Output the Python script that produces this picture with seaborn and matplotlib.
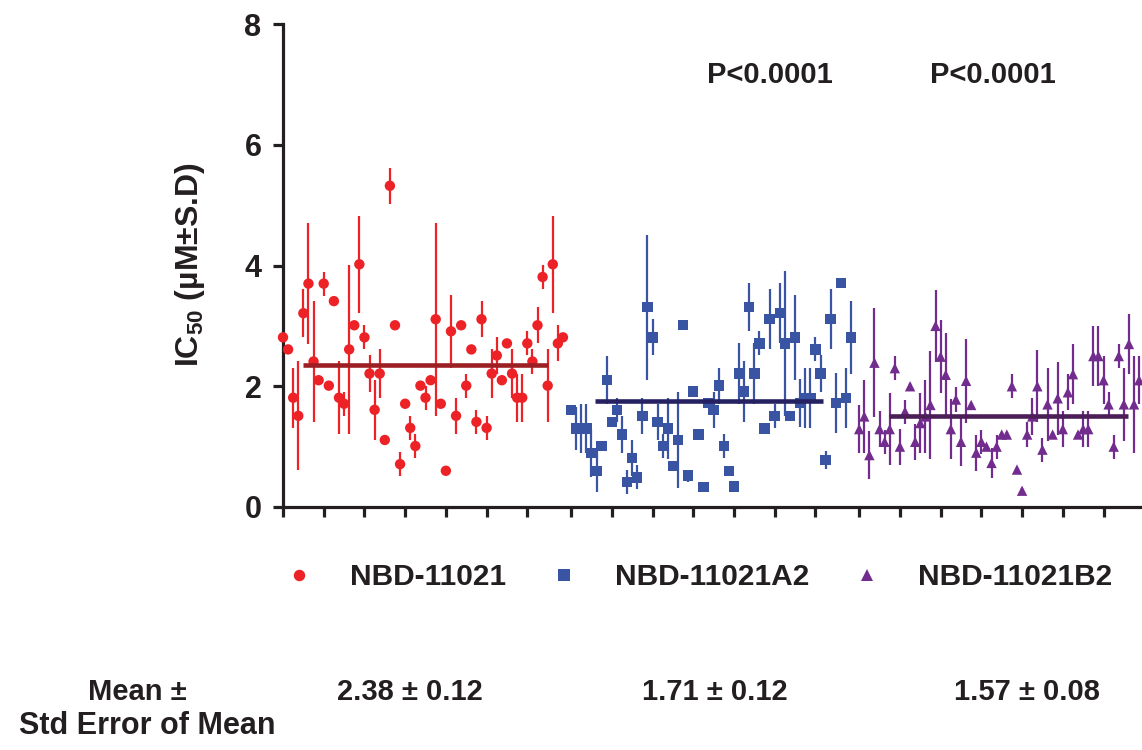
import numpy as np
import pandas as pd
import matplotlib
matplotlib.use("Agg")
import matplotlib.pyplot as plt
import seaborn as sns

# 化合物名称
compounds = ["NBD-11021", "NBD-11021A2", "NBD-11021B2"]

# 每个化合物的 IC50 值
ic50_parent = [2.81, 2.61, 1.81, 1.51, 3.21, 3.70, 2.41, 2.10, 3.70, 2.01,
               3.41, 1.81, 1.71, 2.61, 3.01, 4.02, 2.81, 2.21, 1.61, 2.21,
               1.11, 5.32, 3.01, 0.71, 1.71, 1.31, 1.01, 2.01, 1.81, 2.10,
               3.11, 1.71, 0.60, 2.91, 1.51, 3.01, 2.01, 2.61, 1.41, 3.11,
               1.31, 2.21, 2.51, 2.10, 2.71, 2.21, 1.81, 1.81, 2.71, 2.41,
               3.01, 3.81, 2.01, 4.02, 2.71, 2.81]
sd_parent = [0.10, 0.05, 0.50, 0.90, 0.40, 1.00, 1.00, 0.05, 0.20, 0.05,
             0.05, 0.60, 0.20, 1.40, 0.05, 0.80, 0.20, 0.30, 0.50, 0.40,
             0.05, 0.30, 0.05, 0.20, 0.05, 0.20, 0.20, 0.05, 0.20, 0.05,
             1.60, 0.05, 0.05, 0.60, 0.30, 0.05, 0.20, 0.05, 0.20, 0.30,
             0.20, 0.40, 0.30, 0.05, 0.05, 0.40, 0.40, 0.40, 0.20, 0.20,
             0.30, 0.20, 0.60, 0.80, 0.30, 0.05]

ic50_a2 = [1.61, 1.30, 1.30, 1.30, 0.89, 0.60, 1.01, 2.10, 1.41, 1.61,
           1.20, 0.41, 0.81, 0.49, 1.51, 3.31, 2.81, 1.41, 1.01, 1.30,
           0.68, 1.11, 3.01, 0.52, 1.91, 1.20, 0.33, 1.72, 1.61, 2.01,
           1.01, 0.60, 0.34, 2.21, 1.91, 3.31, 2.21, 2.71, 1.30, 3.11,
           1.51, 3.21, 2.71, 1.51, 2.81, 1.72, 1.81, 1.81, 2.61, 2.21,
           0.78, 3.11, 1.72, 3.71, 1.81, 2.81]
sd_a2 = [0.05, 0.35, 0.40, 0.40, 0.40, 0.35, 0.05, 0.40, 0.05, 0.20,
         0.30, 0.20, 0.30, 0.20, 0.30, 1.20, 0.30, 0.30, 0.20, 0.50,
         0.05, 0.80, 0.05, 0.10, 0.05, 0.05, 0.05, 0.05, 0.30, 0.30,
         0.20, 0.05, 0.05, 0.50, 0.50, 0.40, 0.50, 0.20, 0.05, 0.50,
         0.20, 0.50, 1.20, 0.05, 0.70, 0.40, 0.50, 0.50, 0.20, 0.30,
         0.15, 0.50, 0.50, 0.05, 0.50, 0.60]

ic50_b2 = [1.29, 1.50, 0.86, 2.39, 1.29, 1.08, 1.29, 2.30, 1.00, 1.58,
           2.00, 1.08, 1.39, 1.50, 1.69, 3.00, 2.49, 2.19, 1.29, 1.78,
           1.08, 2.09, 1.69, 0.90, 1.08, 1.00, 0.73, 1.00, 1.20, 1.20,
           2.00, 0.62, 0.27, 1.20, 1.50, 2.00, 0.95, 1.70, 1.20, 1.80,
           1.29, 1.90, 2.20, 1.20, 1.29, 1.29, 2.50, 2.50, 2.10, 1.70,
           1.00, 2.50, 1.70, 2.70, 1.70, 2.10]
sd_b2 = [0.40, 0.60, 0.40, 0.90, 0.30, 0.20, 0.60, 0.20, 0.30, 0.20,
         0.05, 0.30, 0.50, 0.60, 0.90, 0.60, 0.60, 0.70, 0.50, 0.20,
         0.40, 0.70, 0.05, 0.30, 0.20, 0.05, 0.25, 0.20, 0.05, 0.05,
         0.20, 0.05, 0.05, 0.20, 0.30, 0.60, 0.20, 0.60, 0.05, 0.60,
         0.30, 0.30, 0.50, 0.05, 0.30, 0.30, 0.50, 0.50, 0.40, 0.20,
         0.20, 0.20, 0.60, 0.50, 0.80, 0.40]

# 均值线（图中位置）和下方的统计文字
group_means = [2.35, 1.75, 1.50]
mean_sem_text = ["2.38 \u00b1 0.12", "1.71 \u00b1 0.12", "1.57 \u00b1 0.08"]
p_text = ["P<0.0001", "P<0.0001"]

colors = ["#EC2227", "#3A54A4", "#712C8E"]
mean_colors = ["#9C1F24", "#262262", "#4B1E57"]
markers = ["o", "s", "^"]

# 组间偏移和均值线范围（相对每组起点）
GROUP_STEP = 56.6
mean_spans = [(3.9, 52.1), (4.7, 49.5), (5.9, 52.8)]

all_vals = [ic50_parent, ic50_a2, ic50_b2]
all_sd = [sd_parent, sd_a2, sd_b2]

frames = []
for g, name in enumerate(compounds):
    n = len(all_vals[g])
    frames.append(pd.DataFrame({
        "x": g * GROUP_STEP + np.arange(n),
        "ic50": all_vals[g],
        "sd": all_sd[g],
        "compound": name,
    }))
df = pd.concat(frames, ignore_index=True)

sns.set_style("ticks")
plt.rcParams["font.family"] = ["Liberation Sans", "DejaVu Sans"]
plt.rcParams["font.weight"] = "bold"
plt.rcParams["mathtext.fontset"] = "custom"
plt.rcParams["mathtext.rm"] = "Liberation Sans:bold"
plt.rcParams["mathtext.default"] = "rm"

ink = "#231F20"
W, H = 1142, 750
fig = plt.figure(figsize=(W / 100, H / 100), dpi=100)
ax = fig.add_axes([283 / W, 1 - 507 / H, (W - 283) / W, (507 - 24) / H])

# 误差线
for g, name in enumerate(compounds):
    sub = df[df["compound"] == name]
    eb = ax.errorbar(sub["x"], sub["ic50"], yerr=sub["sd"], fmt="none",
                     ecolor=colors[g], elinewidth=1.6, capsize=0, zorder=2)
    for art in eb.lines[2]:
        art.set_clip_on(False)

# 散点
sns.scatterplot(data=df, x="x", y="ic50", hue="compound", style="compound",
                palette=dict(zip(compounds, colors)),
                markers=dict(zip(compounds, markers)),
                s=56, edgecolor="none", linewidth=0, ax=ax, zorder=3,
                clip_on=False)

# 均值线
for g in range(3):
    lo, hi = mean_spans[g]
    ax.hlines(group_means[g], g * GROUP_STEP + lo, g * GROUP_STEP + hi,
              color=mean_colors[g], lw=3.3, zorder=4)

ax.set_xlim(0, (W - 283) / 5.09)
ax.set_ylim(0, 8)
ax.set_yticks([0, 2, 4, 6, 8])
ticks = [g * GROUP_STEP + t for g in range(3) for t in range(0, 49, 8)]
ax.set_xticks(ticks)
ax.set_xticklabels([])
ax.set_xlabel("")
ax.set_ylabel("")
sns.despine(ax=ax)
for side in ["left", "bottom"]:
    ax.spines[side].set_linewidth(2.3)
    ax.spines[side].set_color(ink)
ax.tick_params(axis="both", direction="out", length=7.5, width=2.3,
               color=ink, labelcolor=ink)
ax.tick_params(axis="y", labelsize=22, pad=8)
for lab in ax.get_yticklabels():
    lab.set_fontweight("bold")

# 图例
handles, labels = ax.get_legend_handles_labels()
ax.legend(handles, labels, loc="center left",
          bbox_to_anchor=(284 / W, 1 - 577 / H), bbox_transform=fig.transFigure,
          ncol=3, frameon=False, prop={"weight": "bold", "size": 21.5},
          handlelength=1.0, handletextpad=1.22, columnspacing=1.42,
          markerscale=1.1, borderpad=0, borderaxespad=0, labelcolor=ink)

# 文字
fig.text(190 / W, 1 - 265 / H, "IC$_{50}$ (\u00b5M\u00b1S.D)", rotation=90,
         ha="center", va="center", fontsize=23, fontweight="bold", color=ink)
for xp, t in zip([770, 993], p_text):
    fig.text(xp / W, 1 - 75 / H, t, ha="center", va="center",
             fontsize=21, fontweight="bold", color=ink)
fig.text(137 / W, 1 - 692 / H, "Mean \u00b1", ha="center", va="center",
         fontsize=21, fontweight="bold", color=ink)
fig.text(147 / W, 1 - 726 / H, "Std Error of Mean", ha="center", va="center",
         fontsize=22, fontweight="bold", color=ink)
for xp, t in zip([410, 715, 1027], mean_sem_text):
    fig.text(xp / W, 1 - 692 / H, t, ha="center", va="center",
             fontsize=21, fontweight="bold", color=ink)

fig.savefig("out.png", dpi=100)
